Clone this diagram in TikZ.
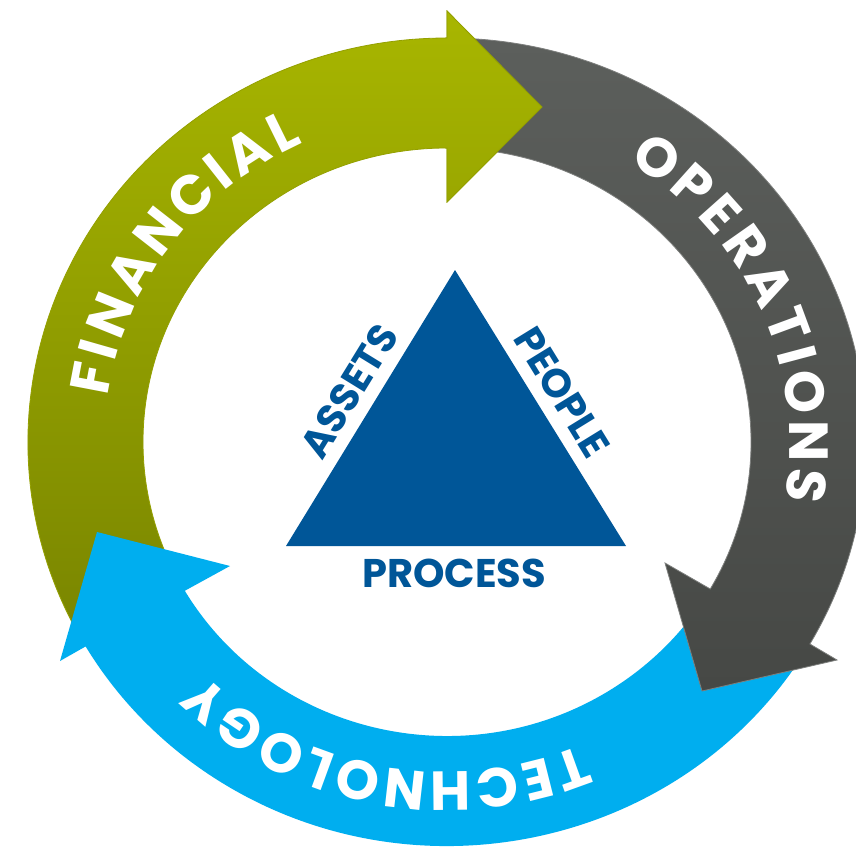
\documentclass[tikz,border=0pt]{standalone}
\usepackage{fontspec}
\setmainfont{Poppins}
\usetikzlibrary{decorations.text}
\definecolor{grtop}{RGB}{168,182,0}
\definecolor{grbot}{RGB}{122,134,0}
\definecolor{grline}{RGB}{148,160,0}
\definecolor{gytop}{RGB}{92,95,92}
\definecolor{gybot}{RGB}{70,72,69}
\definecolor{gyline}{RGB}{125,127,125}
\definecolor{techblue}{RGB}{0,174,239}
\definecolor{triblue}{RGB}{0,86,152}
% elliptical ring, centre (447,442), outer 419x404, inner 304x294, mid 361.5x349
\newcommand\outerpt[1]{([shift={(447,442)}]#1:419 and 404)}
\newcommand\innerpt[1]{([shift={(447,442)}]#1:304 and 294)}
\newcommand\greenarrow{\outerpt{152} arc[start angle=152,end angle=270,x radius=419,y radius=404]
  -- (447,11) -- (542,107) -- (447,202) -- \innerpt{270}
  arc[start angle=270,end angle=152,x radius=304,y radius=294] -- cycle}
\newcommand\grayarrow{\outerpt{270} arc[start angle=270,end angle=390,x radius=419,y radius=404]
  -- (837,660) -- (702,691) -- (665,563) -- \innerpt{390}
  arc[start angle=390,end angle=270,x radius=304,y radius=294] -- cycle}
\newcommand\bluearrow{\outerpt{32} arc[start angle=32,end angle=149.6,x radius=419,y radius=404]
  -- (60,661) -- (97,532) -- (230,566) -- \innerpt{149.6}
  arc[start angle=149.6,end angle=32,x radius=304,y radius=294] -- cycle}
\newcommand\ringtext[3]{\path[decorate,decoration={text along path,text align=fit to path,raise=-19pt,
  text={|\fontsize{55}{55}\selectfont\bfseries\color{white}|#3}}]
  ([shift={(447,442)}]#1:361.5 and 349) arc[start angle=#1,end angle=#2,x radius=361.5,y radius=349];}
\tikzset{
  greenstyle/.style={top color=grtop,bottom color=grbot,draw=grline,line width=0.8pt},
  graystyle/.style={top color=gytop,bottom color=gybot,draw=gyline,line width=0.8pt},
  bluestyle/.style={fill=techblue},
  trilabel/.style={text=triblue,font=\fontsize{40}{40}\selectfont\bfseries,inner sep=0pt}
}
\begin{document}
\begin{tikzpicture}[x=1pt,y=-1pt]
\useasboundingbox[fill=white] (0,0) rectangle (856,848);
% arrows
\shade[greenstyle] \greenarrow;
\fill[bluestyle] \bluearrow;
\shade[graystyle] \grayarrow;
\begin{scope}
  \clip (445,6) -- (547,107) -- (445,208) -- cycle;
  \shade[greenstyle] \greenarrow;
\end{scope}
% ring labels
\ringtext{188}{245}{FINANCIAL}
\ringtext{302}{370}{OPERATIONS}
\ringtext{67}{135}{TECHNOLOGY}
% triangle
\coordinate (apex) at (455,270);
\coordinate (bl) at (286,546);
\coordinate (br) at (626,546);
\fill[triblue] (apex) -- (br) -- (bl) -- cycle;
\node[trilabel,rotate=58.4] (assets) at (349,391) {ASSETS};
\node[trilabel,rotate=-58.4] (people) at (562,392) {PEOPLE};
\node[trilabel] (process) at (454,573) {PROCESS};
\end{tikzpicture}
\end{document}
